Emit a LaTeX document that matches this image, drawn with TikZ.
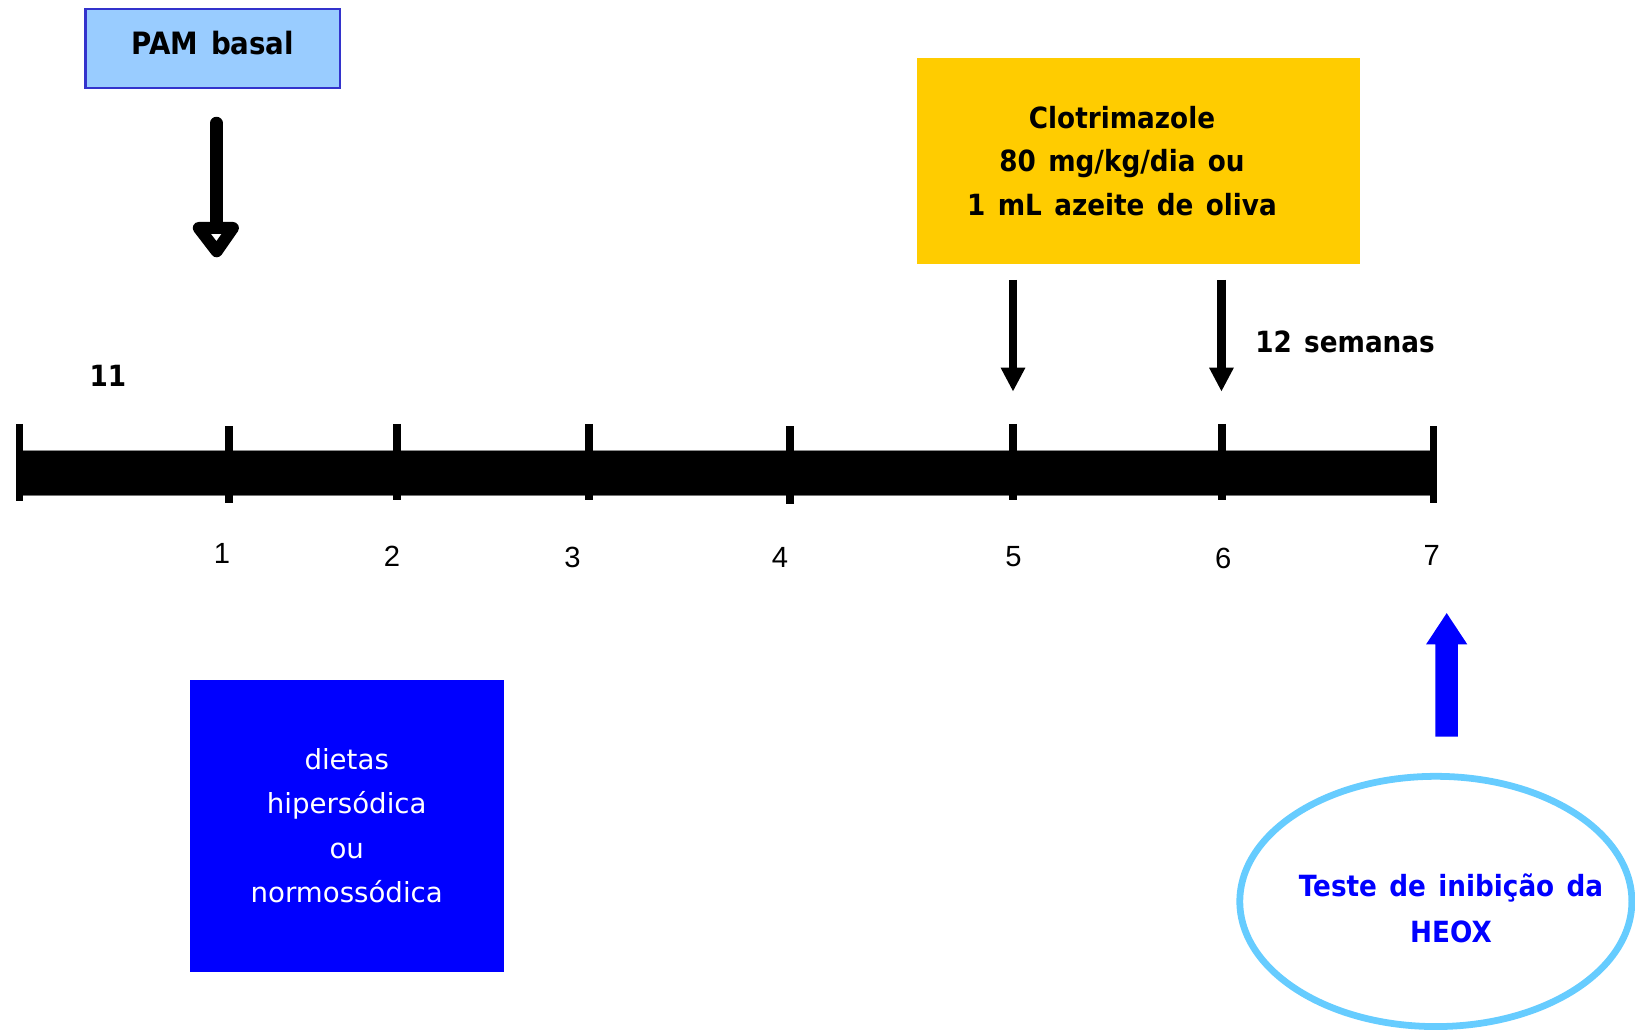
\documentclass[tikz,border=0pt]{standalone}
\usepackage{fontspec}
\setmainfont{DejaVu Sans}
\newfontfamily\tbold[FakeStretch=0.9,WordSpace=1.35]{DejaVu Sans}
\newfontfamily\numfont{Liberation Sans}
\usetikzlibrary{arrows.meta,shapes.geometric}
\definecolor{pamfill}{RGB}{153,204,255}
\definecolor{pamdraw}{RGB}{51,51,204}
\definecolor{clotfill}{RGB}{255,204,0}
\definecolor{bluec}{RGB}{0,0,255}
\definecolor{ellcol}{RGB}{102,204,255}
\tikzset{
  boldtxt/.style={font=\tbold\bfseries\fontsize{28}{42}\selectfont, inner sep=0pt},
  numtxt/.style={font=\numfont\fontsize{28}{32}\selectfont, inner sep=0pt, anchor=base},
  tickline/.style={line width=7.5pt, black},
  downarrow/.style={line width=8pt, black, -{Triangle[width=22pt,length=23pt]}},
}
\begin{document}
\begin{tikzpicture}[x=1pt,y=-1pt]
\useasboundingbox (0,0) rectangle (1568,991);

% PAM basal box
\node[draw=pamdraw, fill=pamfill, line width=2pt, minimum width=244pt, minimum height=75pt,
      inner sep=0pt, text height=22.8pt, text depth=10.4pt,
      font=\tbold\bfseries\fontsize{29.5}{36}\selectfont] (pam) at (204,46.5) {PAM basal};

% open-headed arrow below PAM
\coordinate (pamtop) at (207.5,118);
\coordinate (pamshaftend) at (207.5,217);
\draw[line width=11.5pt, line join=round, fill=white]
  (190.6,218.6) -- (223.4,218.6) -- (207.8,241) -- cycle;
\draw[line width=12pt, line cap=round] (pamtop) -- (pamshaftend);

% label 11
\node[boldtxt, anchor=base west] (l11) at (85.7,371) {11};

% Clotrimazole box
\node[fill=clotfill, minimum width=425pt, minimum height=197pt, inner sep=0pt] (clotbox) at (1091.5,154.5) {};
\node[boldtxt, align=center] (clot) at (1076,154.5) {Clotrimazole\\80 mg/kg/dia ou\\1 mL azeite de oliva};

% down arrows
\coordinate (a5top) at (971.5,268.5);
\coordinate (a5tip) at (971.5,375.6);
\coordinate (a6top) at (1171.4,268.5);
\coordinate (a6tip) at (1171.4,375.6);
\draw[downarrow] (a5top) -- (a5tip);
\draw[downarrow] (a6top) -- (a6tip);

\node[boldtxt, anchor=base west] (sem) at (1203.6,337.6) {12 semanas};

% timeline bar
\fill[black] (18.7,431.6) rectangle (1374.7,474.7);
\draw[black!45, line width=0.9pt] (18.7,431.6) -- (1374.7,431.6);
\draw[black!55, line width=0.9pt] (18.7,474.7) -- (1374.7,474.7);
\draw[tickline] (18.7,406.6) -- (18.7,480);
\draw[tickline] (219.6,408.6) -- (219.6,482);
\draw[tickline] (380.7,406.6) -- (380.7,479.5);
\draw[tickline] (565,406.6) -- (565,479.5);
\draw[tickline] (757.6,408.6) -- (757.6,483.4);
\draw[tickline] (971.5,406.6) -- (971.5,479.5);
\draw[tickline] (1171.7,406.6) -- (1171.7,479.5);
\draw[tickline] (1374.7,408.6) -- (1374.7,482);

% tick labels
\node[numtxt] (lab1) at (213,540) {1};
\node[numtxt] (lab2) at (376,543.5) {2};
\node[numtxt] (lab3) at (549,544.7) {3};
\node[numtxt] (lab4) at (748,544.7) {4};
\node[numtxt] (lab5) at (972,543.5) {5};
\node[numtxt] (lab6) at (1173,545) {6};
\node[numtxt] (lab7) at (1373,541.9) {7};

% diet box
\node[fill=bluec, minimum width=301pt, minimum height=280pt, inner sep=0pt, text=white,
      align=center, font=\fontsize{26.5}{42.7}\selectfont] (diet) at (332.5,792)
      {dietas\\hipersódica\\ou\\normossódica};

% blue block arrow
\fill[bluec] (1376.5,706.5) -- (1376.5,618) -- (1367.6,618) -- (1387.4,588)
  -- (1407.2,618) -- (1398,618) -- (1398,706.5) -- cycle;

% HEOX ellipse
\node[ellipse, draw=ellcol, line width=6.5pt, minimum width=376pt, minimum height=240pt, inner sep=0pt] (heox) at (1377,864.5) {};
\node[boldtxt, text=bluec, align=center, font=\tbold\bfseries\fontsize{28}{44}\selectfont] (heoxtext) at (1391.5,870.7) {Teste de inibição da\\HEOX};
\end{tikzpicture}
\end{document}
